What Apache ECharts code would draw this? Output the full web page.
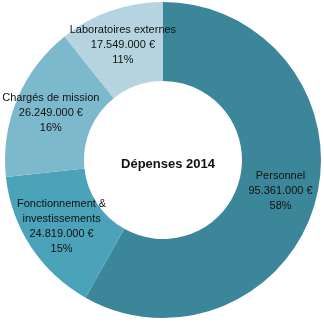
<!DOCTYPE html>
<html>
<head>
<meta charset="utf-8">
<script src="https://cdn.jsdelivr.net/npm/echarts@6/dist/echarts.min.js"></script>
<style>html,body{margin:0;padding:0;background:#fff}#c{width:324px;height:326px}</style>
</head>
<body>
<div id="c"></div>
<script>
const categories = ["Personnel", "Fonctionnement &\ninvestissements", "Chargés de mission", "Laboratoires externes"];
const amounts = [95361000, 24819000, 26249000, 17549000];
const amountLabels = ["95.361.000 €", "24.819.000 €", "26.249.000 €", "17.549.000 €"];
const percentLabels = ["58%", "15%", "16%", "11%"];
const colors = ["#3b8799", "#4aa3b9", "#7db9cd", "#b5d4df"];
const centerTitle = "Dépenses 2014";

const chart = echarts.init(document.getElementById('c'), null, {renderer: 'canvas'});
chart.setOption({
  animation: false,
  title: {
    text: centerTitle,
    left: 163, top: 153,
    textAlign: 'center',
    textStyle: {fontFamily: 'Liberation Sans', fontWeight: 'bold', fontSize: 13, color: '#111'}
  },
  series: [{
    type: 'pie',
    center: [163, 160],
    radius: [79, 158],
    startAngle: 90,
    clockwise: true,
    avoidLabelOverlap: false,
    label: {
      position: 'inside',
      fontFamily: 'Liberation Sans',
      fontSize: 11,
      lineHeight: 15,
      color: '#111',
      formatter: p => p.name + '\n' + amountLabels[p.dataIndex] + '\n' + percentLabels[p.dataIndex]
    },
    labelLine: {show: false},
    itemStyle: {borderWidth: 0},
    emphasis: {disabled: true},
    data: categories.map((c, i) => ({name: c, value: amounts[i], itemStyle: {color: colors[i]}}))
  }]
});
</script>
</body>
</html>
